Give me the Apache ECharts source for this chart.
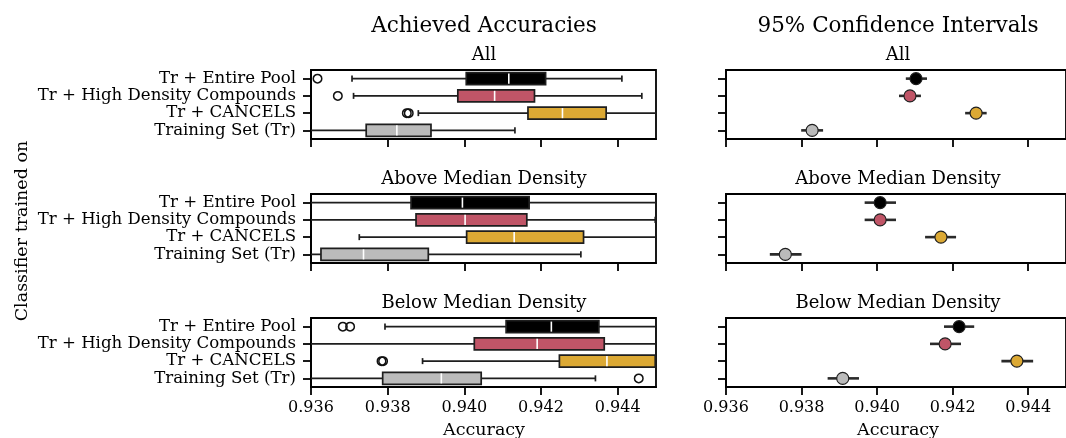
<!DOCTYPE html>
<html>
<head>
<meta charset="utf-8">
<script src="https://cdn.jsdelivr.net/npm/echarts@6/dist/echarts.min.js"></script>
<style>
  html, body { margin: 0; padding: 0; background: #fff; }
  #chart { width: 1066px; height: 438px; }
</style>
</head>
<body>
<div id="chart"></div>
<script>
// Classifiers compared (top to bottom in every panel)
const categories = ['Tr + Entire Pool', 'Tr + High Density Compounds', 'Tr + CANCELS', 'Training Set (Tr)'];
const classColors = ['#000000', '#c05567', '#dca934', '#bbbbbb'];

// Panel subsets
const subsets = ['All', 'Above Median Density', 'Below Median Density'];

// Box statistics per classifier: [lower whisker, Q1, median, Q3, upper whisker]
const allBoxes = [
  [0.93707, 0.94005, 0.94116, 0.94212, 0.94411],
  [0.93711, 0.93983, 0.94079, 0.94183, 0.94463],
  [0.93880, 0.94166, 0.94256, 0.94370, 0.94560],
  [0.93540, 0.93744, 0.93824, 0.93913, 0.94132]
];
const aboveBoxes = [
  [0.93520, 0.93861, 0.93995, 0.94169, 0.94580],
  [0.93540, 0.93874, 0.94002, 0.94163, 0.94498],
  [0.93726, 0.94006, 0.94130, 0.94311, 0.94620],
  [0.93480, 0.93626, 0.93737, 0.93906, 0.94304]
];
const belowBoxes = [
  [0.93793, 0.94109, 0.94227, 0.94351, 0.94560],
  [0.93570, 0.94026, 0.94190, 0.94365, 0.94620],
  [0.93891, 0.94248, 0.94372, 0.94498, 0.94680],
  [0.93590, 0.93787, 0.93940, 0.94044, 0.94342]
];

// Outliers: [accuracy, classifier index]
const allOutliers = [[0.93617, 0], [0.93670, 1], [0.93850, 2], [0.93855, 2]];
const aboveOutliers = [];
const belowOutliers = [[0.93683, 0], [0.93702, 0], [0.93784, 2], [0.93788, 2], [0.94455, 3]];

// 95% confidence intervals: [lower, mean, upper]
const allCI = [
  [0.94076, 0.94103, 0.94132],
  [0.94058, 0.94087, 0.94116],
  [0.94233, 0.94262, 0.94290],
  [0.93799, 0.93828, 0.93857]
];
const aboveCI = [
  [0.93967, 0.94008, 0.94050],
  [0.93967, 0.94008, 0.94050],
  [0.94127, 0.94169, 0.94209],
  [0.93716, 0.93757, 0.93800]
];
const belowCI = [
  [0.94177, 0.94217, 0.94257],
  [0.94140, 0.94180, 0.94222],
  [0.94329, 0.94370, 0.94413],
  [0.93869, 0.93909, 0.93952]
];

// Axis ticks
const xTicks = [0.936, 0.938, 0.940, 0.942, 0.944];
const xMin = 0.936, xMax = 0.945;

const boxPanels = [allBoxes, aboveBoxes, belowBoxes];
const outlierPanels = [allOutliers, aboveOutliers, belowOutliers];
const ciPanels = [allCI, aboveCI, belowCI];

const FONT = "'DejaVu Serif', 'Liberation Serif', serif";
const EDGE = '#1e1e1e';
const AXIS_W = 1.8;
const panelTops = [70, 194, 318];
const panelH = 69;

const grids = [];
const xAxes = [];
const yAxes = [];
const series = [];

function makeX(gridIndex, showLabels) {
  return {
    type: 'value', gridIndex, min: xMin, max: xMax,
    axisLine: { show: true, lineStyle: { color: '#000', width: AXIS_W } },
    axisTick: { show: true, length: 8, customValues: xTicks, lineStyle: { color: '#000', width: AXIS_W } },
    axisLabel: {
      show: showLabels, customValues: xTicks, margin: 13,
      fontFamily: FONT, fontSize: 16, color: '#000',
      formatter: v => v.toFixed(3)
    },
    splitLine: { show: false }
  };
}
function makeY(gridIndex, showLabels) {
  return {
    type: 'category', gridIndex, data: categories, inverse: true,
    axisLine: { show: true, lineStyle: { color: '#000', width: AXIS_W } },
    axisTick: { show: true, interval: 0, alignWithLabel: true, length: 8, lineStyle: { color: '#000', width: AXIS_W } },
    axisLabel: { show: showLabels, interval: 0, margin: 15, fontFamily: FONT, fontSize: 16.6, color: '#000' },
    splitLine: { show: false }
  };
}

function renderBox(params, api) {
  const cat = api.value(0);
  const lo = api.coord([api.value(1), cat]);
  const q1 = api.coord([api.value(2), cat]);
  const md = api.coord([api.value(3), cat]);
  const q3 = api.coord([api.value(4), cat]);
  const hi = api.coord([api.value(5), cat]);
  const band = api.size([0, 1])[1];
  const h = band * 0.7;
  const y = lo[1];
  const ls = { stroke: EDGE, lineWidth: 1.7 };
  return {
    type: 'group',
    children: [
      { type: 'line', shape: { x1: lo[0], y1: y, x2: q1[0], y2: y }, style: ls },
      { type: 'line', shape: { x1: q3[0], y1: y, x2: hi[0], y2: y }, style: ls },
      { type: 'line', shape: { x1: lo[0], y1: y - h / 4, x2: lo[0], y2: y + h / 4 }, style: ls },
      { type: 'line', shape: { x1: hi[0], y1: y - h / 4, x2: hi[0], y2: y + h / 4 }, style: ls },
      { type: 'rect', shape: { x: q1[0], y: y - h / 2, width: q3[0] - q1[0], height: h },
        style: { fill: classColors[cat], stroke: EDGE, lineWidth: 1.7 } },
      { type: 'line', shape: { x1: md[0], y1: y - h / 2 + 1, x2: md[0], y2: y + h / 2 - 1 },
        style: { stroke: '#ffffff', lineWidth: 1.6 } }
    ]
  };
}

function renderErr(params, api) {
  const cat = api.value(0);
  const lo = api.coord([api.value(1), cat]);
  const hi = api.coord([api.value(3), cat]);
  return {
    type: 'line',
    shape: { x1: lo[0], y1: lo[1], x2: hi[0], y2: hi[1] },
    style: { stroke: '#2a2a2a', lineWidth: 2.6 }
  };
}

for (let p = 0; p < 3; p++) {
  const last = p === 2;
  // box plot panel
  const gl = grids.length;
  grids.push({ left: 311, top: panelTops[p], width: 345, height: panelH, show: true,
    borderColor: '#000', borderWidth: AXIS_W, backgroundColor: 'transparent' });
  xAxes.push(makeX(gl, last));
  yAxes.push(makeY(gl, true));
  series.push({
    type: 'custom', xAxisIndex: gl, yAxisIndex: gl, clip: true,
    renderItem: renderBox,
    encode: { x: [1, 2, 3, 4, 5], y: 0 },
    data: boxPanels[p].map((b, i) => [i].concat(b))
  });
  series.push({
    type: 'scatter', xAxisIndex: gl, yAxisIndex: gl, symbol: 'circle', symbolSize: 8.5,
    itemStyle: { color: 'rgba(255,255,255,0)', borderColor: '#111', borderWidth: 1.5, opacity: 1 },
    data: outlierPanels[p], z: 3
  });

  // confidence interval panel
  const gr = grids.length;
  grids.push({ left: 726, top: panelTops[p], width: 345, height: panelH, show: true,
    borderColor: '#000', borderWidth: AXIS_W, backgroundColor: 'transparent' });
  xAxes.push(makeX(gr, last));
  yAxes.push(makeY(gr, false));
  series.push({
    type: 'custom', xAxisIndex: gr, yAxisIndex: gr, clip: true,
    renderItem: renderErr,
    encode: { x: [1, 2, 3], y: 0 },
    data: ciPanels[p].map((c, i) => [i].concat(c))
  });
  series.push({
    type: 'scatter', xAxisIndex: gr, yAxisIndex: gr, symbol: 'circle', symbolSize: 12, z: 3,
    itemStyle: { color: params => classColors[params.value[1]], borderColor: EDGE, borderWidth: 1.1, opacity: 1 },
    data: ciPanels[p].map((c, i) => [c[1], i])
  });
}

function label(text, x, y, size, rotation) {
  return {
    type: 'text', x, y, rotation: rotation || 0,
    style: { text, fill: '#000', font: size + 'px ' + FONT, align: 'center', verticalAlign: 'middle' }
  };
}

const graphics = [
  label('Achieved Accuracies', 484, 26, 21.5),
  label('95% Confidence Intervals', 898, 26, 21.5),
  label('Accuracy', 484, 430, 17.5),
  label('Accuracy', 898, 430, 17.5),
  label('Classifier trained on', 22, 231, 17.5, Math.PI / 2)
];
subsets.forEach((s, p) => {
  graphics.push(label(s, 484, panelTops[p] - 15, 18));
  graphics.push(label(s, 898, panelTops[p] - 15, 18));
});

const chart = echarts.init(document.getElementById('chart'), null, { renderer: 'canvas' });
chart.setOption({
  animation: false,
  backgroundColor: '#ffffff',
  grid: grids,
  xAxis: xAxes,
  yAxis: yAxes,
  series: series,
  graphic: graphics
});
</script>
</body>
</html>
